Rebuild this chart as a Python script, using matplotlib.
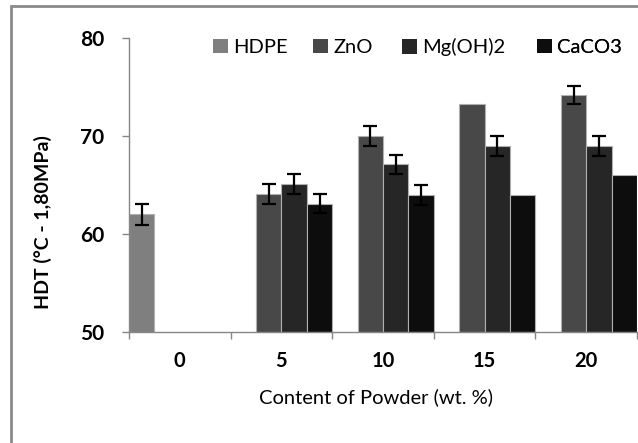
import numpy as np
import matplotlib
matplotlib.use("Agg")
import matplotlib.pyplot as plt
from matplotlib.patches import Rectangle, Patch

plt.rcParams['font.family'] = ['Lato', 'DejaVu Sans']

categories = ["0", "5", "10", "15", "20"]
series = ["HDPE", "ZnO", "Mg(OH)2", "CaCO3"]
hdpe = [62.0, np.nan, np.nan, np.nan, np.nan]
zno = [np.nan, 64.1, 70.0, 73.3, 74.2]
mgoh2 = [np.nan, 65.1, 67.1, 69.0, 69.0]
caco3 = [np.nan, 63.1, 64.0, 64.0, 66.0]
hdpe_err = [1.1, 0, 0, 0, 0]
zno_err = [0, 1.0, 1.0, 0, 0.9]
mgoh2_err = [0, 1.0, 1.0, 1.0, 1.0]
caco3_err = [0, 1.0, 1.0, 0, 0]

values = [hdpe, zno, mgoh2, caco3]
errors = [hdpe_err, zno_err, mgoh2_err, caco3_err]
colors = ["#7f7f7f", "#484848", "#262626", "#0d0d0d"]

fig = plt.figure(figsize=(6.38, 4.43), dpi=100)
ax = fig.add_axes([129/638, 1-332/443, (637-129)/638, (332-38)/443])

x = np.arange(len(categories))
w = 0.25
offsets = [-0.375, -0.125, 0.125, 0.375]
for vals, errs, c, off, name in zip(values, errors, colors, offsets, series):
    v = np.array(vals, dtype=float)
    ax.bar(x + off, v - 50, w, bottom=50, color=c, edgecolor="#b0b0b0",
           linewidth=0.8, label=name, zorder=2)
    e = np.array(errs, dtype=float)
    m = (e > 0) & ~np.isnan(v)
    ax.errorbar((x + off)[m], v[m], yerr=e[m], fmt="none", ecolor="black",
                elinewidth=1.6, capsize=5, capthick=1.6, zorder=3)

ax.set_xlim(-0.5, 4.5)
ax.set_ylim(50, 80)
ax.set_yticks([50, 60, 70, 80])
ax.set_xticks(x)
ax.set_xticklabels(categories)
ax.set_xticks(np.arange(-0.5, 4.6, 1), minor=True)
ax.tick_params(axis="x", which="major", length=0, pad=14, labelsize=14.5)
ax.tick_params(axis="x", which="minor", length=5, color="#868686", width=1)
ax.tick_params(axis="y", length=5, color="#868686", width=1, pad=13, labelsize=15)
for lab in ax.get_xticklabels() + ax.get_yticklabels():
    lab.set_fontweight("bold")

for s in ["top", "right"]:
    ax.spines[s].set_visible(False)
for s in ["left", "bottom"]:
    ax.spines[s].set_color("#868686")
    ax.spines[s].set_linewidth(1)

ax.set_ylabel("HDT (°C - 1,80MPa)", fontsize=14, fontweight="bold")
ax.yaxis.set_label_coords(-0.152, 0.374)
ax.set_xlabel("Content of Powder (wt. %)", fontsize=14.5)
ax.xaxis.set_label_coords(0.486, -0.192)

# legend entries placed individually (as in the reference layout)
leg_x = [0.165, 0.362, 0.537, 0.803]
for name, c, lx in zip(series, colors, leg_x):
    lg = ax.legend(handles=[Patch(facecolor=c, edgecolor="none", label=name)],
                   loc="center left", bbox_to_anchor=(lx, 0.968), frameon=False,
                   fontsize=14.5, handlelength=0.75, handleheight=0.75,
                   handletextpad=0.25, borderpad=0, borderaxespad=0)
    ax.add_artist(lg)

# figure border (cropped on right/bottom)
fig.patches.append(Rectangle((11/638, -0.1), 1.2, 1 - 6/443 + 0.1,
                             transform=fig.transFigure, fill=False,
                             edgecolor="#8a8a8a", linewidth=2))

fig.savefig("out.png", dpi=100)
